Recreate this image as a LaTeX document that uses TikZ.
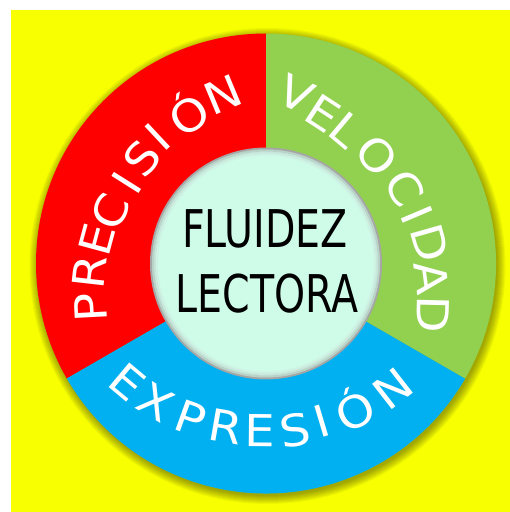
\documentclass[tikz,border=0pt]{standalone}
\usepackage{fontspec}
\usetikzlibrary{calc}
\newfontfamily\ringfont[FakeStretch=1.1]{DejaVu Sans}
\newfontfamily\centerfont[FakeStretch=0.76]{DejaVu Sans}
\definecolor{bgyellow}{RGB}{248,255,0}
\definecolor{segred}{RGB}{255,0,0}
\definecolor{seggreen}{RGB}{146,208,80}
\definecolor{segblue}{RGB}{0,176,240}
\definecolor{mint}{RGB}{207,251,233}
\newcommand\ringlet[5]{%
  \node[letterface, rotate=#4] (#1) at (#2,#3) {#5};}
\begin{document}
\begin{tikzpicture}[x=1pt,y=1pt,
  letterface/.style={font=\ringfont\fontsize{44}{44}\selectfont, inner sep=0pt, text height=32pt, text depth=0pt, anchor=center, text=white},
  centertext/.style={font=\centerfont\fontsize{52}{52}\selectfont, inner sep=0pt, text height=38pt, text depth=0pt, text=black, anchor=center}]
\useasboundingbox (0,0) rectangle (510,512);
\fill[white] (0,0) rectangle (510,512);
\fill[bgyellow] (11,0) rectangle (510,502);
\coordinate (c) at (266,248.5);
% soft drop shadow
\foreach \k in {1,...,9} \fill[black, opacity=0.045] ($(c)+(1.5,-2.5)$) circle (229+\k);
% sectors
\fill[segred] (c) -- ++(90:230) arc[start angle=90,end angle=210,radius=230] -- cycle;
\fill[segblue] (c) -- ++(210:230) arc[start angle=210,end angle=330,radius=230] -- cycle;
\fill[seggreen] (c) -- ++(330:230) arc[start angle=330,end angle=450,radius=230] -- cycle;
% inner disc
\fill[black!35] (c) circle (116);
\fill[mint] (c) circle (114);
\draw[black!40, line width=2pt, opacity=0.4] (c) circle (113);
\draw[black!30, line width=2pt, opacity=0.25] (c) circle (111);
\draw[black!20, line width=2pt, opacity=0.15] (c) circle (109);
% PRECISION
\ringlet{p1}{91}{204}{93}{P}
\ringlet{p2}{90}{240}{83.5}{R}
\ringlet{p3}{97}{272}{74.9}{E}
\ringlet{p4}{110}{300}{66.8}{C}
\ringlet{p5}{127}{329}{57.8}{I}
\ringlet{p6}{142}{354}{50}{S}
\ringlet{p7}{158}{375}{43.1}{I}
\ringlet{p8}{189}{396}{33.7}{Ó}
\ringlet{p9}{223}{417}{22.7}{N}
% VELOCIDAD
\ringlet{v1}{296}{418}{-25}{V}
\ringlet{v2}{323}{399}{-33}{E}
\ringlet{v3}{346}{382}{-40}{L}
\ringlet{v4}{377}{356}{-49.8}{O}
\ringlet{v5}{405}{324}{-59.9}{C}
\ringlet{v6}{417}{297}{-67}{I}
\ringlet{v7}{430}{269}{-74.2}{D}
\ringlet{v8}{432}{234}{-82.5}{A}
\ringlet{v9}{433}{197}{-91.4}{D}
% EXPRESION
\ringlet{e1}{127}{130}{-39.9}{E}
\ringlet{e2}{156}{110}{-30.3}{X}
\ringlet{e3}{191}{94}{-19.8}{P}
\ringlet{e4}{226}{85}{-9.9}{R}
\ringlet{e5}{260}{81}{-0.5}{E}
\ringlet{e6}{295}{82}{9}{S}
\ringlet{e7}{322}{91}{16.7}{I}
\ringlet{e8}{356}{100}{26.1}{Ó}
\ringlet{e9}{393}{123}{37.9}{N}
% centre text
\node[centertext] (fl) at (265,283) {FLUIDEZ};
\node[centertext] (lec) at (267,218) {LECTORA};
\end{tikzpicture}
\end{document}
